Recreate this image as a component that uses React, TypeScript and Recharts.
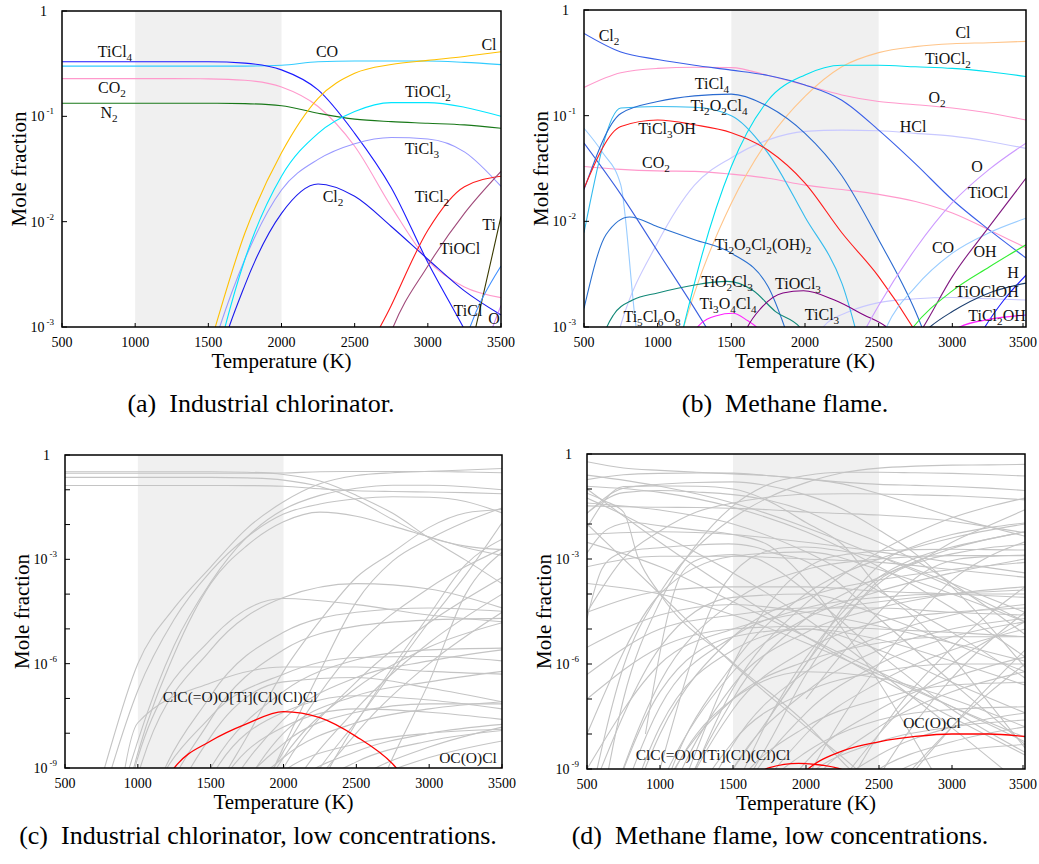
import React from "react";
import { LineChart, Line, XAxis, YAxis, ReferenceArea } from "recharts";

const FONT = '"Liberation Serif", "DejaVu Serif", serif';
const GREY = "#c4c4c4";

const temps = [500, 750, 1000, 1250, 1500, 1750, 2000, 2250, 2500, 2750, 3000, 3250, 3500];
const coarseTemps = [500, 1000, 1500, 2000, 2500, 3000, 3500];
const tempTicks = [500, 1000, 1500, 2000, 2500, 3000, 3500];
const majorTicks = [1e-3, 1e-2, 1e-1, 1];
const lowTicks = [1e-9, 1e-8, 1e-7, 1e-6, 1e-5, 1e-4, 1e-3, 1e-2, 1e-1, 1];

// industrial chlorinator, values on `temps`
const chlorTiCl4 = [0.33, 0.33, 0.33, 0.33, 0.33, 0.32, 0.276, 0.178, 0.069, 0.021, 0.0041, 0.00095, 0.0002];
const chlorCO = [0.3, 0.3, 0.3, 0.3, 0.3, 0.3, 0.305, 0.33, 0.335, 0.335, 0.335, 0.325, 0.31];
const chlorCO2 = [0.228, 0.228, 0.228, 0.228, 0.227, 0.22, 0.19, 0.124, 0.052, 0.0139, 0.0043, 0.0024, 0.0019];
const chlorN2 = [0.133, 0.133, 0.133, 0.133, 0.133, 0.132, 0.126, 0.107, 0.094, 0.089, 0.086, 0.083, 0.077];
const chlorCl = [1e-13, 5e-10, 1e-6, 4e-5, 6e-4, 0.0078, 0.045, 0.148, 0.256, 0.31, 0.34, 0.37, 0.41];
const chlorTiOCl2 = [1e-18, 1e-12, 6e-9, 3.4e-6, 2.2e-4, 0.0044, 0.027, 0.069, 0.111, 0.135, 0.135, 0.122, 0.1];
const chlorTiCl3 = [1e-14, 1e-10, 1.7e-7, 1.9e-5, 4.5e-4, 0.0044, 0.02, 0.039, 0.055, 0.063, 0.061, 0.046, 0.0216];
const chlorCl2 = [1e-18, 1e-13, 2.7e-9, 1.9e-6, 2e-4, 0.0025, 0.012, 0.0228, 0.0174, 0.009, 0.0044, 0.0022, 0.0013];
const chlorTiCl2 = [1e-30, 1e-25, 1e-18, 1e-13, 1e-10, 8e-9, 6e-7, 1.7e-5, 3e-4, 0.0016, 0.0083, 0.0215, 0.027];
const chlorTiOCl = [1e-34, 1e-28, 1e-22, 1e-17, 1e-13, 2e-11, 4e-9, 6e-7, 6e-5, 9e-4, 0.0038, 0.012, 0.03];
const chlorTi = [1e-40, 1e-34, 1e-28, 1e-22, 1e-18, 1e-14, 2e-11, 1e-9, 2.2e-8, 6e-7, 1.6e-5, 3.5e-4, 0.0112];
const chlorTiCl = [1e-40, 1e-34, 1e-28, 1e-22, 1e-18, 1e-15, 1e-12, 3e-10, 2e-8, 8e-7, 2.5e-5, 7e-4, 0.0038];
const chlorO = [1e-40, 1e-34, 1e-28, 1e-24, 1e-20, 1e-17, 1e-14, 1e-12, 1e-11, 2e-9, 3e-7, 1e-4, 0.0016];

// highlighted trace species, [T, x]
const chlorCarbonyl = [[750, 1e-14], [1000, 1e-11], [1250, 1e-9], [1500, 6e-9], [1750, 1.9e-8], [2000, 4.2e-8], [2250, 2.8e-8], [2500, 8e-9], [2750, 1.3e-9], [3000, 5e-11]];
const chlorOCOCl = [[3000, 1e-11], [3250, 1e-10], [3400, 5e-10], [3500, 1.05e-9]];

// other chlorinator trace species, values on `coarseTemps`
const chlorHumps = [
  [1e-30, 6e-10, 2.5e-6, 8e-5, 2e-4, 1.4e-4, 4e-5],
  [1e-30, 2e-9, 5e-6, 7.5e-5, 5e-5, 2.5e-5, 1.6e-5],
  [1e-30, 3e-12, 1.2e-7, 8e-6, 3e-5, 4e-5, 3.2e-5],
  [1e-30, 3e-13, 2.5e-8, 2.5e-6, 1.2e-5, 1.8e-5, 2e-5],
  [1e-30, 1e-11, 3e-8, 5e-7, 1.5e-6, 1.6e-6, 1.2e-6],
  [1e-30, 1e-14, 1e-9, 1.6e-7, 1.3e-6, 2.5e-6, 2.8e-6],
  [1e-30, 1e-16, 3e-11, 2.5e-8, 4e-7, 1.2e-6, 2.5e-6],
  [1e-30, 1e-18, 3e-12, 1e-8, 1.2e-7, 3e-7, 6e-7],
  [1e-30, 2e-8, 2.8e-7, 8e-7, 8e-7, 6e-7, 5e-7],
  [1e-40, 1e-14, 8e-9, 3e-7, 4e-7, 2e-7, 8e-8],
];
const chlorRisers = [
  [1e-40, 1e-25, 1e-14, 1e-9, 3e-7, 1.5e-5, 3e-4],
  [1e-40, 1e-24, 1e-13, 3e-9, 3e-6, 1.5e-4, 2e-3],
  [1e-40, 1e-26, 1e-15, 1e-10, 5e-8, 4e-6, 1e-4],
  [1e-40, 1e-28, 1e-17, 1e-11, 1e-8, 1e-6, 3e-5],
  [1e-40, 1e-22, 1e-13, 2e-9, 2e-7, 3e-6, 1.5e-5],
];
const chlorTail = [
  [1e-40, 1e-25, 1e-16, 1e-11, 3e-10, 2e-9, 6e-9],
  [1e-40, 1e-22, 1e-14, 5e-11, 1.5e-9, 6e-9, 1.2e-8],
  [1e-40, 1e-20, 1e-13, 2e-10, 3e-9, 1e-8, 1.8e-8],
  [1e-40, 1e-20, 1e-12, 8e-10, 5e-9, 1e-8, 1.3e-8],
  [1e-40, 1e-24, 1e-15, 1e-11, 5e-10, 4e-9, 1.5e-8],
  [1e-40, 1e-18, 1e-11, 5e-9, 4e-8, 7e-8, 7e-8],
  [1e-40, 1e-19, 5e-12, 2e-9, 2e-8, 5e-8, 8e-8],
  [1e-40, 1e-17, 1e-10, 1.5e-8, 5e-8, 4e-8, 2.5e-8],
  [1e-40, 1e-16, 5e-10, 4e-8, 1.2e-7, 9e-8, 5e-8],
];

// methane flame, values on `temps`
const flameCl2 = [0.6, 0.4, 0.34, 0.3, 0.27, 0.24, 0.195, 0.14, 0.073, 0.035, 0.016, 0.0083, 0.0045];
const flameO2 = [0.185, 0.255, 0.28, 0.287, 0.285, 0.24, 0.195, 0.157, 0.136, 0.127, 0.118, 0.106, 0.091];
const flameCl = [5e-11, 8.5e-7, 1.1e-4, 0.0021, 0.0148, 0.059, 0.152, 0.29, 0.395, 0.45, 0.48, 0.49, 0.505];
const flameTiOCl2 = [3e-13, 1e-7, 6e-5, 0.0026, 0.033, 0.14, 0.243, 0.3, 0.3, 0.29, 0.28, 0.26, 0.235];
const flameTiCl4 = [0.02, 0.105, 0.136, 0.154, 0.16, 0.122, 0.068, 0.027, 0.0067, 0.0014, 1.6e-4, 1.3e-5, 8e-7];
const flameTi2O2Cl4 = [0.0078, 0.118, 0.122, 0.12, 0.1, 0.044, 0.011, 0.0026, 1.5e-4, 2e-5, 1.6e-6, 8e-8, 4e-9];
const flameTiCl3OH = [0.0205, 0.079, 0.091, 0.082, 0.069, 0.047, 0.023, 0.0078, 0.003, 9e-4, 2e-4, 4e-5, 7e-6];
const flameHCl = [3e-5, 1.05e-3, 0.0063, 0.022, 0.04, 0.059, 0.071, 0.073, 0.072, 0.068, 0.064, 0.057, 0.049];
const flameCO2 = [0.033, 0.031, 0.03, 0.0297, 0.028, 0.0256, 0.022, 0.02, 0.018, 0.0154, 0.012, 0.0083, 0.0056];

// methane flame, [T, x]
const flameSteepBlue = [[500, 0.076], [625, 0.045], [750, 0.022], [850, 1.1e-3], [1000, 1e-4], [1500, 1.1e-6], [2000, 2e-8], [2300, 1e-9], [2600, 1e-10]];
const flameFallBlue = [[500, 0.055], [750, 0.018], [1000, 0.0052], [1250, 0.0015], [1500, 4e-4], [2000, 2e-5], [2500, 6e-7], [3000, 1.5e-8], [3500, 3e-10]];
const flameTi2O2Cl2OH2 = [[500, 0.0015], [650, 0.0075], [810, 0.011], [1000, 0.0089], [1250, 0.0067], [1500, 0.005], [1750, 0.0024], [1900, 7e-4], [2000, 2.5e-4], [2250, 1e-5], [2500, 3e-7], [2750, 6e-9], [3000, 1e-10]];
const flameTiO2Cl3 = [[500, 2e-5], [600, 5e-4], [700, 0.0013], [830, 0.0018], [1000, 0.0021], [1250, 0.0025], [1470, 0.0027], [1650, 0.0022], [1800, 0.0014], [1964, 1e-3], [2100, 5e-4], [2500, 2e-5], [3000, 3e-7], [3500, 5e-9]];
const flameTi3O4Cl4 = [[900, 1e-8], [1150, 4e-4], [1270, 1e-3], [1400, 0.00128], [1510, 0.00135], [1610, 0.00115], [1670, 1e-3], [1800, 5e-4], [2000, 1.2e-4], [2500, 2e-6], [3000, 5e-8], [3500, 3e-9]];
const flameTiOCl3 = [[1000, 1e-9], [1400, 1e-4], [1610, 1e-3], [1700, 0.0015], [1850, 0.0021], [1990, 0.0022], [2200, 0.0018], [2400, 0.0013], [2553, 1e-3], [2750, 5e-4], [3000, 2e-4], [3500, 3e-5]];
const flameTiCl3 = [[1200, 1e-9], [1500, 1e-6], [1800, 1e-4], [2123, 1e-3], [2300, 0.0014], [2500, 0.0017], [2750, 0.00185], [3000, 0.0019], [3250, 0.00185], [3500, 0.0018]];
const flameO = [[1000, 2.5e-12], [1500, 2e-7], [2000, 5.4e-5], [2250, 3.5e-4], [2500, 0.0016], [2750, 0.0055], [3000, 0.015], [3250, 0.031], [3500, 0.055]];
const flameCO = [[1500, 1e-9], [1750, 3e-8], [2000, 1e-6], [2250, 4e-5], [2400, 2.5e-4], [2553, 1e-3], [2750, 0.0024], [3000, 0.005], [3250, 0.0078], [3500, 0.0107]];
const flameTiOCl = [[1500, 1e-10], [1750, 6e-9], [2000, 5e-7], [2250, 1.6e-5], [2500, 2.5e-4], [2803, 1e-3], [3000, 0.003], [3250, 0.0089], [3500, 0.0256]];
const flameOH = [[1500, 2e-10], [1750, 3e-8], [2000, 1.5e-6], [2250, 3e-5], [2500, 3e-4], [2735, 1e-3], [3000, 0.0022], [3250, 0.0037], [3500, 0.006]];
const flameH = [[2000, 5e-10], [2250, 3e-8], [2500, 1e-6], [2750, 2e-5], [3000, 2.5e-4], [3221, 1e-3], [3350, 0.0018], [3500, 0.0031]];
const flameTiOClOH = [[1750, 3e-8], [2000, 1e-6], [2250, 2e-5], [2600, 4e-4], [2848, 1e-3], [3000, 0.0014], [3250, 0.0021], [3500, 0.0026]];
const flameTiCl2OH = [[2000, 1e-7], [2250, 2e-6], [2500, 3e-5], [2800, 4e-4], [3050, 1e-3], [3250, 0.00118], [3500, 0.0013]];
const flameCarbonyl = [[1500, 5e-11], [1600, 3e-10], [1750, 1.1e-9], [1950, 1.45e-9], [2100, 1.3e-9], [2250, 9.5e-10], [2400, 4e-10], [2600, 5e-11]];
const flameOCOCl = [[1750, 5e-11], [2000, 9e-10], [2250, 3.3e-9], [2500, 6e-9], [2750, 8.5e-9], [3000, 1e-8], [3250, 1e-8], [3500, 8.5e-9]];

// other flame trace species, values on `coarseTemps`
const flameRising = [
  [1e-12, 3e-7, 6e-5, 5e-4, 1e-3, 1.25e-3, 1.25e-3],
  [1e-14, 1e-8, 6e-6, 8e-5, 2.5e-4, 5e-4, 8e-4],
  [1e-16, 3e-10, 6e-7, 2e-5, 1.2e-4, 4e-4, 1e-3],
  [1e-13, 6e-8, 6e-6, 4e-5, 8e-5, 1e-4, 1e-4],
  [1e-18, 3e-11, 2.5e-7, 8e-6, 4e-5, 1e-4, 1.6e-4],
  [1e-20, 3e-12, 5e-8, 2.5e-6, 1.6e-5, 3e-5, 4e-5],
  [1e-16, 1.6e-10, 1e-7, 1.2e-6, 4e-6, 6e-6, 6e-6],
  [1e-22, 1e-13, 5e-9, 6e-7, 6e-6, 2.5e-5, 5e-5],
  [1e-24, 1e-14, 1e-9, 1.6e-7, 2.5e-6, 1e-5, 2e-5],
  [1e-20, 1e-12, 6e-9, 1.6e-7, 6e-7, 1e-6, 1e-6],
  [1e-26, 1e-16, 6e-11, 4e-8, 1e-6, 6e-6, 1.6e-5],
  [1e-28, 1e-17, 1e-11, 1e-8, 3e-7, 2.5e-6, 1e-5],
  [1e-22, 1e-14, 2.5e-10, 1.6e-8, 1e-7, 2.5e-7, 3e-7],
  [1e-30, 1e-19, 1e-12, 1.6e-9, 5e-8, 4e-7, 1.6e-6],
  [1e-24, 1e-15, 3e-11, 3e-9, 2.5e-8, 5e-8, 6e-8],
  [1e-32, 1e-21, 3e-14, 2.5e-10, 1.6e-8, 1.6e-7, 6e-7],
  [1e-26, 1e-17, 1.6e-12, 6e-10, 6e-9, 1.6e-8, 2.5e-8],
  [1e-30, 1e-20, 3e-14, 6e-11, 2.5e-9, 1.6e-8, 4e-8],
  [1e-34, 1e-22, 3e-15, 1.6e-11, 1e-9, 6e-9, 1.6e-8],
  [1e-36, 1e-24, 1e-16, 3e-12, 4e-10, 3e-9, 5e-9],
];
const flameSteep = [
  [1e-40, 1e-28, 1e-18, 1e-12, 1e-8, 3e-6, 1.6e-4],
  [1e-44, 1e-30, 1e-20, 3e-14, 6e-10, 4e-7, 3e-5],
  [1e-40, 1e-28, 1e-19, 1.6e-14, 6e-11, 1.6e-8, 1e-6],
  [1e-36, 1e-24, 1e-16, 1e-11, 1e-8, 1e-6, 1.6e-5],
  [1e-50, 1e-34, 1e-22, 1e-15, 3e-11, 1.6e-8, 2.5e-6],
  [1e-20, 1e-10, 1e-6, 1e-4, 1e-3, 4e-3, 0.01],
  [1e-24, 1e-12, 1e-7, 2e-5, 3e-4, 2e-3, 6e-3],
];
const flameHumps = [
  [1e-8, 1e-4, 1.2e-3, 1.6e-3, 5e-4, 1e-4, 1.6e-5],
  [1e-10, 3e-6, 8e-5, 1e-4, 2.5e-5, 4e-6, 6e-7],
  [1e-14, 1.6e-8, 2.5e-6, 1e-5, 5e-6, 1.2e-6, 2.5e-7],
  [1e-12, 1.6e-7, 6e-6, 1e-5, 2.5e-6, 3e-7, 4e-8],
  [1e-18, 1e-10, 1e-7, 6e-7, 4e-7, 1e-7, 1.6e-8],
];
const flameFalling = [
  [0.1, 3e-3, 1.2e-4, 6e-6, 4e-7, 3e-8, 2.5e-9],
  [1e-2, 1e-4, 1e-6, 1.6e-8, 2.5e-10, 1e-12, 1e-14],
  [0.25, 0.12, 0.04, 8e-3, 1.2e-3, 1.6e-4, 1.6e-5],
  [0.04, 0.025, 0.01, 1.6e-3, 1.2e-4, 8e-6, 4e-7],
  [0.12, 0.08, 0.03, 6e-3, 6e-4, 4e-5, 1.6e-6],
  [3e-3, 6e-4, 6e-5, 6e-6, 6e-7, 6e-8, 6e-9],
  [2e-4, 1e-4, 2.5e-5, 4e-6, 5e-7, 6e-8, 8e-9],
];
const flameFlat = [
  [6e-4, 1.2e-3, 1.2e-3, 1e-3, 8e-4, 5e-4, 3e-4],
  [3e-5, 1.2e-4, 1.6e-4, 1.6e-4, 1.2e-4, 1e-4, 8e-5],
  [5e-7, 1e-5, 2.5e-5, 4e-5, 4e-5, 3e-5, 2.5e-5],
  [5e-3, 6e-3, 5e-3, 3e-3, 1.6e-3, 8e-4, 4e-4],
  [3e-6, 2.5e-5, 5e-5, 3e-5, 1.2e-5, 4e-6, 1.2e-6],
  [1e-7, 3e-6, 1e-5, 1.2e-5, 1e-5, 8e-6, 6e-6],
  [1e-9, 1e-6, 1e-5, 3e-5, 6e-5, 1e-4, 1.3e-4],
];

type Pt = { T: number; v: number };
type Series = { id: string; color: string; data: Pt[]; width?: number };

const onGrid = (ts: number[], vs: number[]): Pt[] => ts.map((T, i) => ({ T, v: vs[i] }));
const fromPairs = (ps: number[][]): Pt[] => ps.map(([T, v]) => ({ T, v }));

const chlorSpecies: Series[] = [
  { id: "CO2", color: "#ff99cc", data: onGrid(temps, chlorCO2) },
  { id: "N2", color: "#187818", data: onGrid(temps, chlorN2) },
  { id: "CO", color: "#33ccff", data: onGrid(temps, chlorCO) },
  { id: "TiCl4", color: "#1a1aff", data: onGrid(temps, chlorTiCl4) },
  { id: "Cl", color: "#ffc000", data: onGrid(temps, chlorCl) },
  { id: "TiCl3", color: "#9999ff", data: onGrid(temps, chlorTiCl3) },
  { id: "TiOCl2", color: "#00e5ff", data: onGrid(temps, chlorTiOCl2) },
  { id: "Cl2", color: "#1a1aee", data: onGrid(temps, chlorCl2) },
  { id: "TiCl2", color: "#ff1a1a", data: onGrid(temps, chlorTiCl2) },
  { id: "TiOCl", color: "#a04a7a", data: onGrid(temps, chlorTiOCl) },
  { id: "Ti", color: "#3a3a00", data: onGrid(temps, chlorTi) },
  { id: "TiCl", color: "#3f8fff", data: onGrid(temps, chlorTiCl) },
  { id: "O", color: "#cc88ff", data: onGrid(temps, chlorO) },
];

const flameSpecies: Series[] = [
  { id: "HCl", color: "#c8c8ff", data: onGrid(temps, flameHCl) },
  { id: "TiCl3", color: "#c8c8ff", data: fromPairs(flameTiCl3) },
  { id: "CO2", color: "#ff99cc", data: onGrid(temps, flameCO2) },
  { id: "O2", color: "#ff99cc", data: onGrid(temps, flameO2) },
  { id: "Cl", color: "#ffc58a", data: onGrid(temps, flameCl) },
  { id: "steep", color: "#99ccff", data: fromPairs(flameSteepBlue) },
  { id: "fall", color: "#3a5fe0", data: fromPairs(flameFallBlue) },
  { id: "Cl2", color: "#3a5fe8", data: onGrid(temps, flameCl2) },
  { id: "TiOCl2", color: "#00e0f0", data: onGrid(temps, flameTiOCl2) },
  { id: "Ti2O2Cl4", color: "#33bbee", data: onGrid(temps, flameTi2O2Cl4) },
  { id: "TiCl4", color: "#2a6ad0", data: onGrid(temps, flameTiCl4) },
  { id: "Ti2O2Cl2OH2", color: "#2a70d0", data: fromPairs(flameTi2O2Cl2OH2) },
  { id: "TiCl3OH", color: "#ff1a1a", data: onGrid(temps, flameTiCl3OH) },
  { id: "TiO2Cl3", color: "#118877", data: fromPairs(flameTiO2Cl3) },
  { id: "Ti3O4Cl4", color: "#ff22ff", data: fromPairs(flameTi3O4Cl4) },
  { id: "TiOCl3", color: "#800080", data: fromPairs(flameTiOCl3) },
  { id: "O", color: "#cc99ff", data: fromPairs(flameO) },
  { id: "CO", color: "#99ccff", data: fromPairs(flameCO) },
  { id: "TiOCl", color: "#801a80", data: fromPairs(flameTiOCl) },
  { id: "OH", color: "#33ee33", data: fromPairs(flameOH) },
  { id: "H", color: "#1a1aff", data: fromPairs(flameH) },
  { id: "TiOClOH", color: "#1a3d6e", data: fromPairs(flameTiOClOH) },
  { id: "TiCl2OH", color: "#ff22ff", data: fromPairs(flameTiCl2OH) },
];

const greyOf = (list: Series[]): Series[] => list.map((s) => ({ ...s, id: "g" + s.id, color: GREY }));
const greyRows = (rows: number[][], tag: string): Series[] =>
  rows.map((r, i) => ({ id: tag + i, color: GREY, data: onGrid(coarseTemps, r) }));

const chlorLow: Series[] = [
  ...greyOf(chlorSpecies),
  ...greyRows(chlorHumps, "ch"),
  ...greyRows(chlorRisers, "cr"),
  ...greyRows(chlorTail, "ct"),
  { id: "carbonyl", color: "#ff0000", width: 1.3, data: fromPairs(chlorCarbonyl) },
  { id: "ococl", color: "#ff0000", width: 1.3, data: fromPairs(chlorOCOCl) },
];

const flameLow: Series[] = [
  ...greyOf(flameSpecies),
  ...greyRows(flameRising, "fr"),
  ...greyRows(flameSteep, "fs"),
  ...greyRows(flameHumps, "fh"),
  ...greyRows(flameFalling, "ff"),
  ...greyRows(flameFlat, "fl"),
  { id: "carbonyl", color: "#ff0000", width: 1.3, data: fromPairs(flameCarbonyl) },
  { id: "ococl", color: "#ff0000", width: 1.3, data: fromPairs(flameOCOCl) },
];

type Cfg = {
  left: number; top: number; width: number; height: number;
  x0: number; x1: number; y0: number; y1: number;
  yMin: number; yTicks: number[]; labelled: number[]; shade: [number, number];
};

const panelA: Cfg = { left: 0, top: 0, width: 520, height: 380, x0: 62, x1: 501, y0: 11, y1: 327, yMin: 1e-3, yTicks: majorTicks, labelled: [0, -1, -2, -3], shade: [1000, 2000] };
const panelB: Cfg = { left: 520, top: 0, width: 519, height: 380, x0: 64, x1: 506, y0: 10, y1: 327, yMin: 1e-3, yTicks: majorTicks, labelled: [0, -1, -2, -3], shade: [1500, 2500] };
const panelC: Cfg = { left: 0, top: 430, width: 520, height: 380, x0: 65, x1: 502, y0: 25, y1: 338, yMin: 1e-9, yTicks: lowTicks, labelled: [0, -3, -6, -9], shade: [1000, 2000] };
const panelD: Cfg = { left: 520, top: 430, width: 519, height: 380, x0: 67, x1: 505, y0: 24, y1: 339, yMin: 1e-9, yTicks: lowTicks, labelled: [0, -3, -6, -9], shade: [1500, 2500] };

// curve labels, page coordinates
const chlorLabels: [string, number, number][] = [
  ["TiCl_4", 115, 52], ["CO", 327, 52], ["Cl", 489, 45], ["CO_2", 112, 88], ["N_2", 109, 113],
  ["TiOCl_2", 428, 92], ["TiCl_3", 422, 149], ["Cl_2", 333, 197], ["TiCl_2", 432, 197],
  ["Ti", 489, 225], ["TiOCl", 460, 249], ["TiCl", 468, 311], ["O", 494, 319],
];
const flameLabels: [string, number, number][] = [
  ["Cl_2", 609, 36], ["Cl", 963, 33], ["TiOCl_2", 948, 59], ["TiCl_4", 712, 84], ["Ti_2O_2Cl_4", 719, 106],
  ["O_2", 937, 98], ["TiCl_3OH", 667, 129], ["HCl", 913, 127], ["CO_2", 656, 163], ["O", 977, 167],
  ["TiOCl", 988, 193], ["Ti_2O_2Cl_2(OH)_2", 763, 245], ["CO", 943, 248], ["OH", 985, 252], ["H", 1013, 273],
  ["TiO_2Cl_3", 727, 282], ["TiOCl_3", 798, 284], ["TiOClOH", 987, 292], ["Ti_3O_4Cl_4", 728, 304],
  ["TiCl_3", 822, 315], ["TiCl_2OH", 997, 316], ["Ti_5Cl_6O_8", 652, 317],
];
const lowLabels: [string, number, number][] = [
  ["ClC(=O)O[Ti](Cl)(Cl)Cl", 240, 697], ["OC(O)Cl", 468, 758],
  ["ClC(=O)O[Ti](Cl)(Cl)Cl", 713, 755], ["OC(O)Cl", 932, 723],
];
const captions: [string, number, number][] = [
  ["(a)\u2002Industrial chlorinator.", 261, 404],
  ["(b)\u2002Methane flame.", 785, 404],
  ["(c)\u2002Industrial chlorinator, low concentrations.", 258, 836],
  ["(d)\u2002Methane flame, low concentrations.", 780, 836],
];

function Chem({ text, x, y, size = 16 }: { text: string; x: number; y: number; size?: number }) {
  const parts = text.split(/_(\d)/);
  return (
    <text x={x} y={y + size * 0.33} textAnchor="middle" fontSize={size} fontFamily={FONT} fill="#111">
      {parts.map((p, i) =>
        i % 2 === 1 ? (
          <tspan key={i} dy={4} fontSize={size * 0.7}>{p}</tspan>
        ) : p ? (
          <tspan key={i} dy={i > 0 ? -4 : 0}>{p}</tspan>
        ) : null
      )}
    </text>
  );
}

const XAH = 30;
const YAW = 40;

function Panel({ cfg, series }: { cfg: Cfg; series: Series[] }) {
  const { left, top, width, height, x0, x1, y0, y1, yMin, yTicks, labelled, shade } = cfg;
  const xTick = (p: any) => (
    <g>
      <line x1={p.x} x2={p.x} y1={y1} y2={y1 - 4} stroke="#000" />
      <text x={p.x} y={y1 + 20} textAnchor="middle" fontSize={14} fontFamily={FONT} fill="#000">
        {p.payload.value}
      </text>
    </g>
  );
  const yTick = (p: any) => {
    const e = Math.round(Math.log10(p.payload.value));
    return (
      <g>
        <line x1={x0} x2={x0 + 5} y1={p.y} y2={p.y} stroke="#000" />
        {labelled.includes(e) && (
          <text x={e === 0 ? x0 - 15 : x0 - 8} y={p.y + 5} textAnchor="end" fontSize={14} fontFamily={FONT} fill="#000">
            {e === 0 ? "1" : (
              <>
                <tspan>10</tspan>
                <tspan dx={2} dy={-7} fontSize={9}>{`-${-e}`}</tspan>
              </>
            )}
          </text>
        )}
      </g>
    );
  };
  return (
    <div style={{ position: "absolute", left, top }}>
      <LineChart
        width={width}
        height={height}
        margin={{ top: y0, right: width - x1, bottom: height - y1 - XAH, left: x0 - YAW }}
      >
        <ReferenceArea x1={shade[0]} x2={shade[1]} fill="#f0f0f0" fillOpacity={1} stroke="none" />
        <XAxis
          type="number"
          dataKey="T"
          domain={[500, 3500]}
          ticks={tempTicks}
          height={XAH}
          axisLine={false}
          tickLine={false}
          tick={xTick}
          allowDataOverflow
        />
        <YAxis
          type="number"
          scale="log"
          domain={[yMin, 1]}
          ticks={yTicks}
          width={YAW}
          axisLine={false}
          tickLine={false}
          tick={yTick}
          allowDataOverflow
        />
        {series.map((s) => (
          <Line
            key={s.id}
            data={s.data}
            dataKey="v"
            name={s.id}
            type="monotone"
            stroke={s.color}
            strokeWidth={s.width ?? 1.1}
            dot={false}
            activeDot={false}
            isAnimationActive={false}
          />
        ))}
      </LineChart>
    </div>
  );
}

const panels = [panelA, panelB, panelC, panelD];

export default function App() {
  return (
    <div style={{ position: "absolute", left: 0, top: 0, width: 1039, height: 864, background: "#fff", fontFamily: FONT, overflow: "hidden" }}>
      <Panel cfg={panelA} series={chlorSpecies} />
      <Panel cfg={panelB} series={flameSpecies} />
      <Panel cfg={panelC} series={chlorLow} />
      <Panel cfg={panelD} series={flameLow} />
      <svg width={1039} height={864} style={{ position: "absolute", left: 0, top: 0, pointerEvents: "none" }}>
        {panels.map((p, i) => (
          <g key={i}>
            <rect x={p.left + p.x0} y={p.top + p.y0} width={p.x1 - p.x0} height={p.y1 - p.y0} fill="none" stroke="#000" strokeWidth={1.5} />
            <text x={p.left + (p.x0 + p.x1) / 2} y={p.top + p.y1 + 41} textAnchor="middle" fontSize={21} fontFamily={FONT} fill="#000">
              Temperature (K)
            </text>
            <text
              transform={`translate(${p.left + p.x0 - 36}, ${p.top + (p.y0 + p.y1) / 2}) rotate(-90)`}
              textAnchor="middle"
              fontSize={21}
              fontFamily={FONT}
              fill="#000"
            >
              Mole fraction
            </text>
          </g>
        ))}
        {[...chlorLabels, ...flameLabels].map(([t, x, y], i) => (
          <Chem key={"l" + i} text={t} x={x} y={y} />
        ))}
        {lowLabels.map(([t, x, y], i) => (
          <Chem key={"w" + i} text={t} x={x} y={y} size={15.5} />
        ))}
        {captions.map(([t, x, y], i) => (
          <text key={"c" + i} x={x} y={y + 8} textAnchor="middle" fontSize={26} fontFamily={FONT} fill="#000" style={{ whiteSpace: "pre" }}>
            {t}
          </text>
        ))}
      </svg>
    </div>
  );
}
